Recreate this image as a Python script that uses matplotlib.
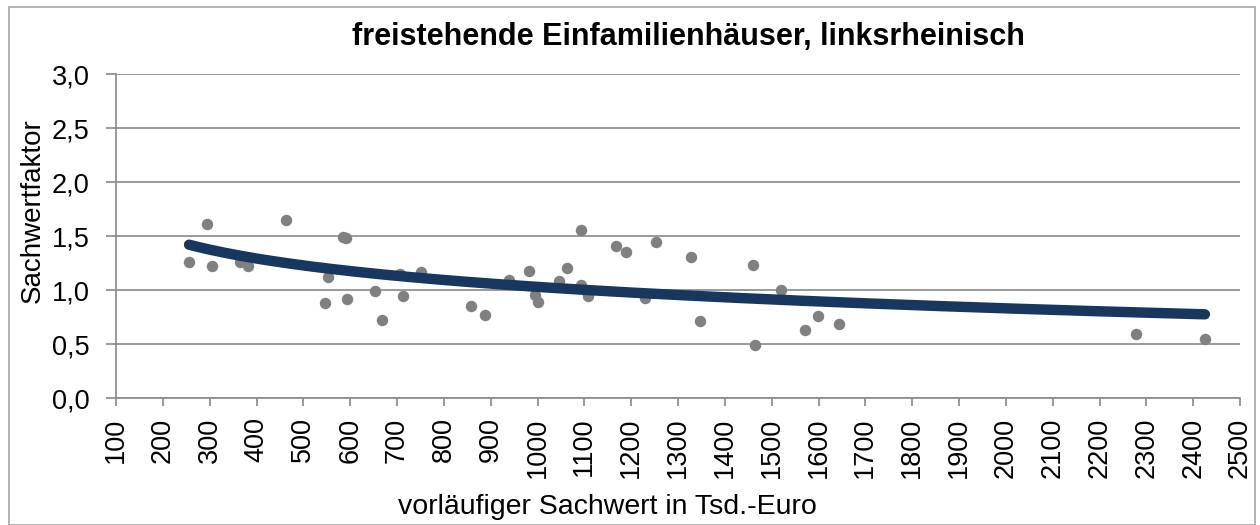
import numpy as np
import matplotlib
matplotlib.use("Agg")
import matplotlib.pyplot as plt
from matplotlib.patches import Rectangle
from matplotlib.ticker import FuncFormatter

plt.rcParams['font.family'] = ['Liberation Sans', 'DejaVu Sans']

# vorläufiger Sachwert (Tsd. Euro) und Sachwertfaktor
sachwert = [256, 294, 306, 365, 381, 463, 547, 553, 584, 591, 593, 653, 669,
            707, 713, 751, 859, 888, 940, 982, 995, 1001, 1045, 1062, 1092,
            1092, 1107, 1168, 1188, 1230, 1252, 1327, 1348, 1460, 1465, 1519,
            1571, 1599, 1643, 2278, 2425]
faktor = [1.26, 1.61, 1.22, 1.26, 1.22, 1.65, 0.88, 1.12, 1.49, 1.48, 0.92,
          0.99, 0.72, 1.15, 0.94, 1.17, 0.855, 0.77, 1.09, 1.18, 0.95, 0.89,
          1.08, 1.20, 1.56, 1.05, 0.94, 1.41, 1.355, 0.93, 1.44, 1.31, 0.71,
          1.23, 0.49, 1.00, 0.63, 0.76, 0.685, 0.59, 0.55]

x = np.array(sachwert, dtype=float)
y = np.array(faktor)

# logarithmische Trendlinie wie in Excel
d, c = np.polyfit(np.log(x), y, 1)
xt = np.linspace(x.min(), x.max(), 200)
yt = c + d * np.log(xt)

fig = plt.figure(figsize=(12.6, 5.25), dpi=100)
ax = fig.add_axes([116 / 1260, 1 - 398 / 525, 1124 / 1260, 324 / 525])

grid_col = '#898989'
ax.scatter(x, y, s=68, color='#808080', zorder=3, linewidths=0)
ax.plot(xt, yt, color='#17375E', lw=7.5, solid_capstyle='round', zorder=4)

ax.set_xlim(100, 2500)
ax.set_ylim(0, 3.0)
ax.set_xticks(np.arange(100, 2501, 100))
ax.set_yticks(np.arange(0, 3.01, 0.5))
ax.yaxis.set_major_formatter(FuncFormatter(lambda v, p: f'{v:.1f}'.replace('.', ',')))
ax.tick_params(axis='x', labelrotation=90, labelsize=19.5, length=6, color=grid_col, width=1.2, pad=8)
ax.tick_params(axis='y', labelsize=19.5, length=7, color=grid_col, width=1.2, pad=12)
ax.grid(axis='y', color=grid_col, lw=1.2)
ax.set_axisbelow(True)
for s in ['top', 'right']:
    ax.spines[s].set_visible(False)
for s in ['left', 'bottom']:
    ax.spines[s].set_color(grid_col)
    ax.spines[s].set_linewidth(1.2)

fig.text(688 / 1260, 1 - 37 / 525, 'freistehende Einfamilienhäuser, linksrheinisch',
         ha='center', va='center', fontsize=22, fontweight='bold')
fig.text(607 / 1260, 1 - 507 / 525, 'vorläufiger Sachwert in Tsd.-Euro',
         ha='center', va='center', fontsize=20.5)
fig.text(33 / 1260, 1 - 211 / 525, 'Sachwertfaktor', rotation=90,
         ha='center', va='center', fontsize=20)

fig.patches.append(Rectangle((9 / 1260, 0), 1246 / 1260, 1 - 7 / 525,
                             transform=fig.transFigure, fill=False,
                             edgecolor='#A6A6A6', lw=1.2))

fig.savefig('out.png', dpi=100)
